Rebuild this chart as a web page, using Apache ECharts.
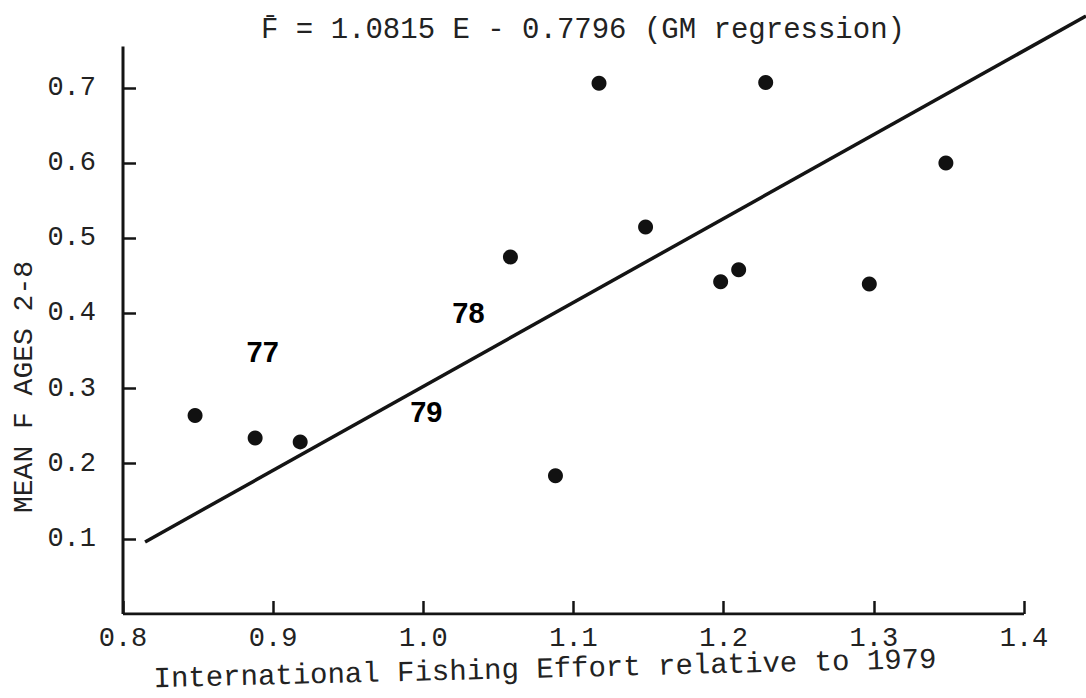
<!DOCTYPE html>
<html>
<head>
<meta charset="utf-8">
<script src="https://cdn.jsdelivr.net/npm/echarts@6/dist/echarts.min.js"></script>
<style>
html,body{margin:0;padding:0;background:#fff;}
#chart{width:1086px;height:698px;}
</style>
</head>
<body>
<div id="chart"></div>
<script>
// Data
var effortX = [0.848, 0.888, 0.918, 1.058, 1.088, 1.117, 1.148, 1.198, 1.210, 1.228, 1.297, 1.348];
var meanF   = [0.264, 0.234, 0.229, 0.475, 0.184, 0.706, 0.515, 0.442, 0.458, 0.707, 0.439, 0.600];
// GM regression line as drawn (runs past the axes at the top right)
var lineX = [0.8147, 1.4413];
var lineY = [0.0959, 0.7956];
var yearLabels = ['77', '78', '79'];
var yearX = [0.893, 1.030, 1.002];
var yearY = [0.349, 0.401, 0.269];
// axis extents as drawn
var xAxisEnds = [0.8, 1.4];
var yAxisEnds = [0, 0.755];
var titleText = 'F\u0304 = 1.0815 E - 0.7796 (GM regression)';
var xName = 'International Fishing Effort relative to 1979';
var yName = 'MEAN F AGES 2-8';

var mono = '"Liberation Mono", "DejaVu Sans Mono", monospace';
var ink = '#141414';

var pts = effortX.map(function (x, i) { return [x, meanF[i]]; });
var reg = lineX.map(function (x, i) { return [x, lineY[i]]; });
var yrs = yearLabels.map(function (t, i) { return { name: t, value: [yearX[i], yearY[i]] }; });
var xAxisLine = [[xAxisEnds[0], 0], [xAxisEnds[1], 0]];
var yAxisLine = [[xAxisEnds[0], yAxisEnds[0]], [xAxisEnds[0], yAxisEnds[1]]];

var chart = echarts.init(document.getElementById('chart'), null, { renderer: 'svg' });
chart.setOption({
  backgroundColor: '#ffffff',
  animation: false,
  grid: { left: 123, right: 0, top: 16, bottom: 84 },
  xAxis: {
    type: 'value', min: 0.8, max: lineX[1], interval: 0.1,
    axisLine: { show: false },
    axisTick: { show: true, inside: true, length: 13, lineStyle: { color: ink, width: 2.5 } },
    splitLine: { show: false },
    axisLabel: {
      margin: 11, color: '#222', fontFamily: mono, fontSize: 27,
      showMaxLabel: false,
      formatter: function (v) { return v > 1.41 ? '' : v.toFixed(1); }
    }
  },
  yAxis: {
    type: 'value', min: 0, max: lineY[1], interval: 0.1,
    axisLine: { show: false },
    axisTick: { show: true, inside: true, length: 13, lineStyle: { color: ink, width: 2.5 } },
    splitLine: { show: false },
    axisLabel: {
      margin: 27, color: '#222', fontFamily: mono, fontSize: 27,
      showMinLabel: false, showMaxLabel: false,
      formatter: function (v) { return (v === 0 || v > 0.75) ? '' : v.toFixed(1); }
    }
  },
  graphic: [
    { type: 'text', x: 583, y: 30, style: { text: titleText, font: '29px ' + mono, fill: '#222', align: 'center', verticalAlign: 'middle', textAlign: 'center', textVerticalAlign: 'middle' } },
    { type: 'text', x: 545, y: 670, rotation: 0.025, style: { text: xName, font: '29px ' + mono, fill: '#222', align: 'center', verticalAlign: 'middle', textAlign: 'center', textVerticalAlign: 'middle' } },
    { type: 'text', x: 24, y: 387, rotation: Math.PI / 2, style: { text: yName, font: '28px ' + mono, fill: '#222', align: 'center', verticalAlign: 'middle', textAlign: 'center', textVerticalAlign: 'middle' } }
  ],
  series: [
    {
      type: 'line', data: xAxisLine, symbol: 'none', silent: true,
      lineStyle: { color: ink, width: 3 }
    },
    {
      type: 'line', data: yAxisLine, symbol: 'none', silent: true,
      lineStyle: { color: ink, width: 3 }
    },
    {
      type: 'line', data: reg, symbol: 'none', silent: true,
      lineStyle: { color: ink, width: 3.5 }
    },
    {
      type: 'scatter', data: pts, symbol: 'circle', symbolSize: 15,
      itemStyle: { color: '#111', opacity: 1 }
    },
    {
      type: 'scatter', data: yrs, symbolSize: 0,
      itemStyle: { opacity: 1 },
      label: {
        show: true, position: 'inside', formatter: '{b}', opacity: 1,
        fontFamily: '"Liberation Sans", Arial, sans-serif', fontWeight: 'bold', fontSize: 29, color: '#000'
      }
    }
  ]
});
</script>
</body>
</html>
